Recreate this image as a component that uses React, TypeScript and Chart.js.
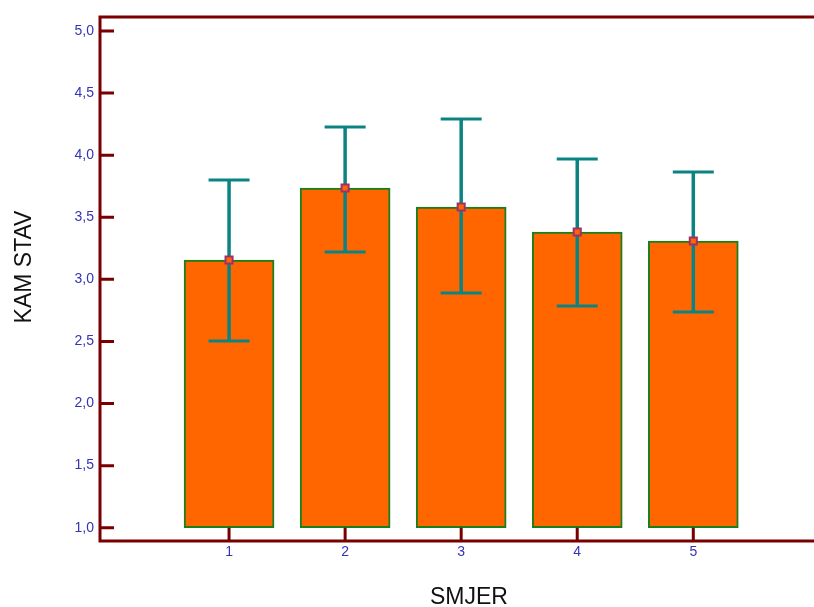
import React, { useEffect, useRef } from "react";
import { Chart, registerables } from "chart.js";

Chart.register(...registerables);

const categories = [1, 2, 3, 4, 5];
const means = [3.156, 3.736, 3.583, 3.381, 3.309];
const upper = [3.8, 4.227, 4.291, 3.969, 3.865];
const lower = [2.504, 3.221, 2.89, 2.786, 2.738];
const yTicks = [1.0, 1.5, 2.0, 2.5, 3.0, 3.5, 4.0, 4.5, 5.0];
const baseValue = 1.0;
const xTitle = "SMJER";
const yTitle = "KAM STAV";

const AXIS = "#7a0000";
const LABEL = "#3434b4";
const ERR = "#0b8383";

export default function App() {
  const ref = useRef<HTMLCanvasElement | null>(null);

  useEffect(() => {
    const canvas = ref.current;
    if (!canvas) return;

    const decor = {
      id: "decor",
      afterDatasetDraw(chart: any, args: any) {
        if (args.index !== 0) return;
        const ctx = chart.ctx;
        const xs = chart.scales.x;
        const ys = chart.scales.y;
        ctx.save();
        ctx.strokeStyle = ERR;
        ctx.lineCap = "butt";
        categories.forEach((c, i) => {
          const x = xs.getPixelForValue(c);
          const yt = ys.getPixelForValue(upper[i]);
          const yb = ys.getPixelForValue(lower[i]);
          ctx.lineWidth = 3.5;
          ctx.beginPath();
          ctx.moveTo(x, yt);
          ctx.lineTo(x, yb);
          ctx.stroke();
          ctx.lineWidth = 3;
          ctx.beginPath();
          ctx.moveTo(x - 20.5, yt);
          ctx.lineTo(x + 20.5, yt);
          ctx.moveTo(x - 20.5, yb);
          ctx.lineTo(x + 20.5, yb);
          ctx.stroke();
        });
        ctx.restore();
      },
      afterDraw(chart: any) {
        const ctx = chart.ctx;
        const a = chart.chartArea;
        const xs = chart.scales.x;
        const ys = chart.scales.y;
        ctx.save();
        ctx.strokeStyle = AXIS;
        ctx.lineWidth = 3;
        ctx.lineCap = "square";
        ctx.beginPath();
        ctx.moveTo(a.left, a.top);
        ctx.lineTo(a.right, a.top);
        ctx.moveTo(a.left, a.top);
        ctx.lineTo(a.left, a.bottom);
        ctx.lineTo(a.right, a.bottom);
        ctx.stroke();
        ctx.lineCap = "butt";
        ctx.beginPath();
        yTicks.forEach((v) => {
          const y = ys.getPixelForValue(v);
          ctx.moveTo(a.left, y);
          ctx.lineTo(a.left + 14, y);
        });
        const yBase = ys.getPixelForValue(baseValue);
        categories.forEach((c) => {
          const x = xs.getPixelForValue(c);
          ctx.moveTo(x, a.bottom);
          ctx.lineTo(x, yBase);
        });
        ctx.stroke();

        ctx.fillStyle = "#111111";
        ctx.font = "23px 'Liberation Sans', Arial, sans-serif";
        ctx.textAlign = "center";
        ctx.textBaseline = "alphabetic";
        ctx.fillText(xTitle, 469, 604);
        ctx.translate(31, 267);
        ctx.rotate(-Math.PI / 2);
        ctx.fillText(yTitle, 0, 0);
        ctx.restore();
      },
    };

    const chart = new Chart(canvas, {
      type: "bar",
      data: {
        datasets: [
          {
            type: "bar",
            data: categories.map((c, i) => ({ x: c, y: [baseValue, means[i]] })) as any,
            backgroundColor: "#ff6600",
            borderColor: "#1a7f1a",
            borderWidth: 2,
            borderSkipped: false,
            barThickness: 90,
            order: 2,
          } as any,
          {
            type: "scatter",
            data: categories.map((c, i) => ({ x: c, y: means[i] })),
            pointStyle: "rect",
            pointRadius: 5,
            backgroundColor: "#ff6600",
            borderColor: "#a0306a",
            borderWidth: 2,
            order: 1,
          } as any,
        ],
      },
      options: {
        animation: false,
        responsive: false,
        devicePixelRatio: 1,
        layout: { autoPadding: false, padding: { top: 17, left: 0, right: 0, bottom: 0 } },
        plugins: { legend: { display: false }, tooltip: { enabled: false } },
        scales: {
          x: {
            type: "linear",
            offset: false,
            min: -0.112,
            max: 6.04,
            grid: { display: false, drawTicks: false, offset: false },
            border: { display: false },
            afterBuildTicks: (s: any) => {
              s.ticks = categories.map((v) => ({ value: v }));
            },
            afterFit: (s: any) => {
              s.height = 66;
              s.paddingLeft = 0;
              s.paddingRight = 0;
            },
            ticks: {
              color: LABEL,
              padding: 3,
              font: { family: "'Liberation Sans', Arial, sans-serif", size: 14 },
              callback: (v: any) => String(v),
              maxRotation: 0,
            },
          },
          y: {
            type: "linear",
            min: 0.893,
            max: 5.113,
            grid: { display: false, drawTicks: false },
            border: { display: false },
            afterBuildTicks: (s: any) => {
              s.ticks = yTicks.map((v) => ({ value: v }));
            },
            afterFit: (s: any) => {
              s.width = 100;
              s.paddingTop = 0;
              s.paddingBottom = 0;
            },
            ticks: {
              color: LABEL,
              padding: 6,
              font: { family: "'Liberation Sans', Arial, sans-serif", size: 14 },
              callback: (v: any) => Number(v).toFixed(1).replace(".", ","),
            },
          },
        },
      },
      plugins: [decor],
    } as any);

    return () => chart.destroy();
  }, []);

  return (
    <div style={{ position: "absolute", left: 0, top: 0, width: 814, height: 607, background: "#fff" }}>
      <canvas ref={ref} width={814} height={607} style={{ width: 814, height: 607, display: "block" }} />
    </div>
  );
}
